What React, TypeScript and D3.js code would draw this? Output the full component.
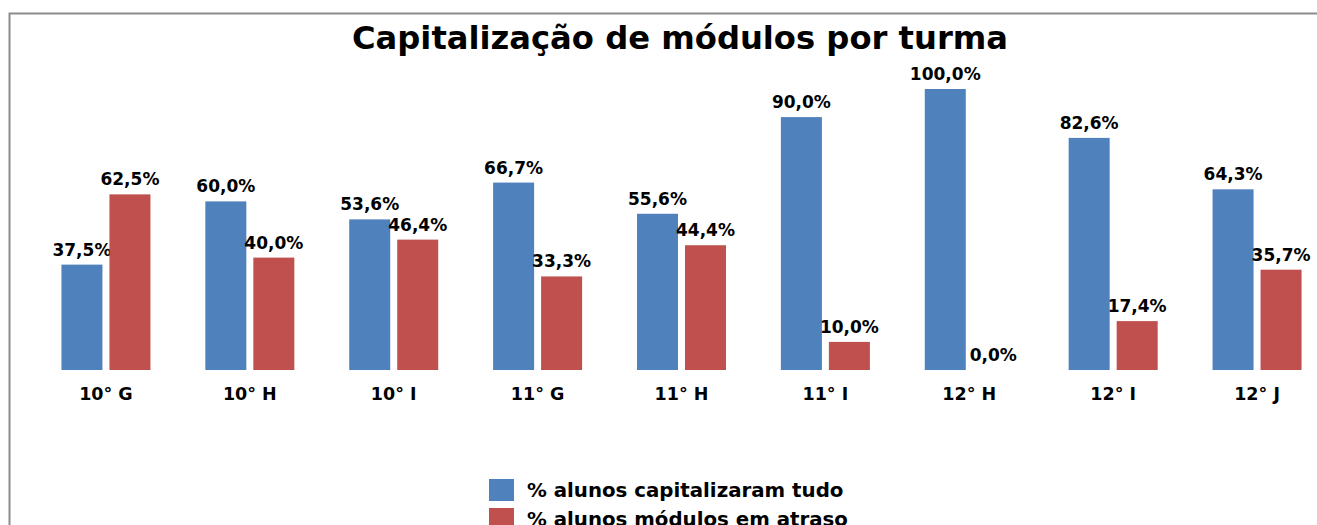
import React from "react";
import * as d3 from "d3";

const categories = ["10° G", "10° H", "10° I", "11° G", "11° H", "11° I", "12° H", "12° I", "12° J"];
const seriesNames = ["% alunos capitalizaram tudo", "% alunos módulos em atraso"];
const capitalizaram = [37.5, 60.0, 53.6, 66.7, 55.6, 90.0, 100.0, 82.6, 64.3];
const atraso = [62.5, 40.0, 46.4, 33.3, 44.4, 10.0, 0.0, 17.4, 35.7];
const colors = ["#4F81BD", "#C0504D"];
const title = "Capitalização de módulos por turma";

const W = 1317;
const H = 525;
const FONT = "'DejaVu Sans', sans-serif";

export default function App() {
  const plotLeft = 34;
  const plotRight = 1329;
  const baseY = 370;
  const topY = 89;

  const x0 = d3.scaleBand<string>().domain(categories).range([plotLeft, plotRight]).paddingInner(0).paddingOuter(0);
  const bw = x0.bandwidth();
  const inner = 89;
  const off = (bw - inner) / 2;
  const x1 = d3.scaleBand<number>().domain([0, 1]).range([off, off + inner]).paddingInner(7 / 48);
  const y = d3.scaleLinear().domain([0, 100]).range([baseY, topY]);
  const series = [capitalizaram, atraso];
  const fmt = (v: number) => v.toFixed(1).replace(".", ",") + "%";

  return (
    <svg width={W} height={H} style={{ position: "absolute", left: 0, top: 0, background: "#fff" }} fontFamily={FONT}>
      <rect x={0} y={0} width={W} height={H} fill="#fff" />
      <path d={`M9.5,${H} V13.5 H${W}`} fill="none" stroke="#8c8c8c" strokeWidth={2} />
      <text x={680} y={49} textAnchor="middle" fontWeight="bold" fontSize={32.2} fill="#000">{title}</text>
      {categories.map((c, i) => (
        <g key={c}>
          {series.map((s, k) => {
            const bx = (x0(c) as number) + (x1(k) as number);
            const w = x1.bandwidth();
            const v = s[i];
            return (
              <g key={k}>
                <rect x={bx} y={y(v)} width={w} height={baseY - y(v)} fill={colors[k]} />
                <text x={bx + w / 2} y={y(v) - 9} textAnchor="middle" fontWeight="bold" fontSize={17} fill="#000">{fmt(v)}</text>
              </g>
            );
          })}
          <text x={(x0(c) as number) + bw / 2} y={400} textAnchor="middle" fontWeight="bold" fontSize={17.5} fill="#000">{c}</text>
        </g>
      ))}
      {seriesNames.map((n, k) => (
        <g key={n}>
          <rect x={489} y={479 + k * 29} width={25} height={22} fill={colors[k]} />
          <text x={527} y={497 + k * 29} fontWeight="bold" fontSize={19.8} fill="#000">{n}</text>
        </g>
      ))}
    </svg>
  );
}
